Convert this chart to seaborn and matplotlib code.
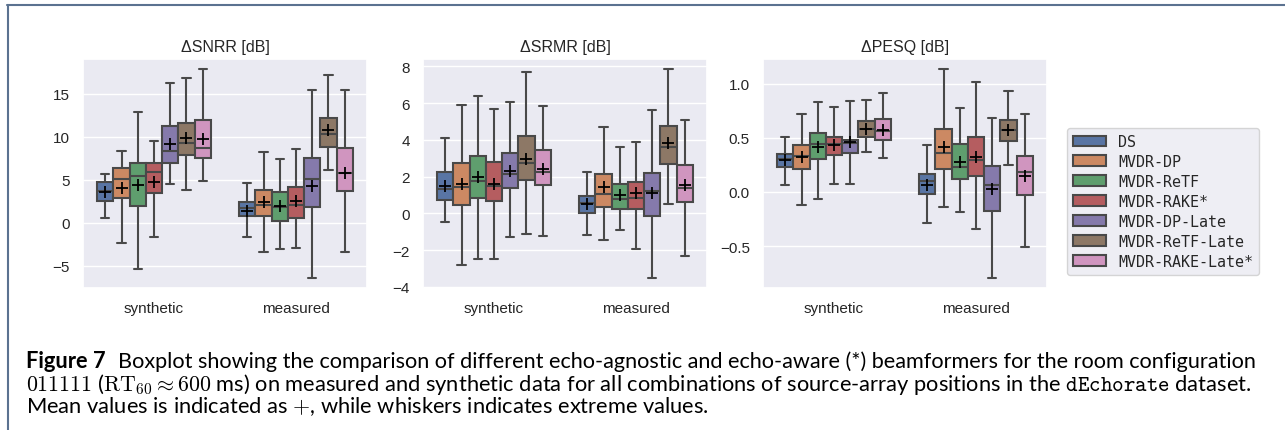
import numpy as np
import pandas as pd
import matplotlib.pyplot as plt
from matplotlib.lines import Line2D
import seaborn as sns

# Data
methods = ["DS", "MVDR-DP", "MVDR-ReTF", "MVDR-RAKE*",
           "MVDR-DP-Late", "MVDR-ReTF-Late", "MVDR-RAKE-Late*"]
conditions = ["synthetic", "measured"]

# one row per method: min, q1, median, q3, max, mean
snrr_synthetic = [
    [0.58, 2.55, 3.70, 4.70, 5.60, 3.58],
    [-2.35, 2.90, 5.04, 6.30, 8.35, 4.04],
    [-5.38, 1.92, 5.46, 6.90, 12.90, 4.42],
    [-1.70, 3.42, 5.90, 6.90, 9.50, 4.73],
    [4.54, 6.90, 8.27, 11.20, 16.20, 9.15],
    [3.80, 7.90, 9.30, 11.60, 16.80, 9.80],
    [4.88, 7.46, 8.65, 11.90, 17.80, 9.73],
]
snrr_measured = [
    [-1.70, 0.73, 1.73, 2.38, 4.60, 1.35],
    [-3.42, 0.81, 2.04, 3.77, 8.23, 2.42],
    [-3.04, 0.23, 1.85, 3.54, 7.42, 1.92],
    [-2.96, 0.50, 2.00, 4.12, 8.54, 2.54],
    [-6.38, 1.85, 5.12, 7.54, 15.40, 4.27],
    [6.08, 8.77, 10.27, 12.15, 17.20, 10.80],
    [-3.38, 3.73, 5.77, 8.65, 15.40, 5.80],
]
srmr_synthetic = [
    [-0.45, 0.72, 1.33, 2.27, 4.08, 1.49],
    [-2.83, 0.47, 1.46, 2.77, 5.90, 1.58],
    [-2.48, 0.86, 1.78, 3.13, 6.42, 1.96],
    [-2.50, 0.68, 1.51, 2.80, 5.70, 1.60],
    [-1.26, 1.37, 2.16, 3.29, 6.06, 2.32],
    [-1.12, 1.81, 2.75, 4.23, 7.72, 2.98],
    [-1.21, 1.56, 2.28, 3.44, 5.85, 2.43],
]
srmr_measured = [
    [-1.15, 0.05, 0.59, 0.97, 2.23, 0.50],
    [-1.42, 0.36, 1.06, 2.17, 4.73, 1.42],
    [-0.92, 0.23, 0.79, 1.58, 3.60, 1.00],
    [-1.96, 0.23, 0.83, 1.69, 3.87, 1.10],
    [-3.49, -0.13, 1.22, 2.21, 5.61, 1.10],
    [0.52, 2.71, 3.61, 4.78, 7.84, 3.85],
    [-2.30, 0.65, 1.37, 2.62, 5.09, 1.54],
]
pesq_synthetic = [
    [0.067, 0.23, 0.30, 0.35, 0.51, 0.29],
    [-0.12, 0.21, 0.33, 0.43, 0.72, 0.32],
    [-0.064, 0.30, 0.44, 0.54, 0.83, 0.41],
    [0.076, 0.34, 0.44, 0.51, 0.78, 0.43],
    [0.073, 0.36, 0.45, 0.48, 0.84, 0.46],
    [0.37, 0.51, 0.58, 0.65, 0.85, 0.58],
    [0.31, 0.48, 0.56, 0.67, 0.91, 0.57],
]
pesq_measured = [
    [-0.285, -0.018, 0.097, 0.164, 0.43, 0.061],
    [-0.142, 0.21, 0.36, 0.58, 1.13, 0.41],
    [-0.185, 0.121, 0.233, 0.44, 0.77, 0.273],
    [-0.34, 0.145, 0.294, 0.51, 1.01, 0.32],
    [-0.79, -0.173, 0.06, 0.24, 0.68, 0.027],
    [0.25, 0.47, 0.57, 0.66, 0.93, 0.57],
    [-0.506, -0.027, 0.18, 0.33, 0.72, 0.143],
]

panels = [
    ("\u0394SNRR [dB]", snrr_synthetic, snrr_measured),
    ("\u0394SRMR [dB]", srmr_synthetic, srmr_measured),
    ("\u0394PESQ [dB]", pesq_synthetic, pesq_measured),
]


def make_frames(syn, mea):
    # five points per box give exact quartiles and extremes (whis=(0, 100))
    rows, means = [], []
    for cond, table in zip(conditions, [syn, mea]):
        for m, r in zip(methods, table):
            for v in r[:5]:
                rows.append((cond, m, v))
            means.append((cond, m, r[5]))
    cols = ["condition", "method", "value"]
    return pd.DataFrame(rows, columns=cols), pd.DataFrame(means, columns=cols)


sns.set_theme(style="darkgrid")
plt.rcParams["font.family"] = ["Liberation Sans", "DejaVu Sans"]

W, H = 1285, 431
fig = plt.figure(figsize=(W / 100, H / 100), dpi=100)
lefts = [83, 423, 763]
axes = [fig.add_axes([l / W, (H - 289) / H, 284 / W, 229 / H]) for l in lefts]

for i, (ax, (title, syn, mea)) in enumerate(zip(axes, panels)):
    box_df, mean_df = make_frames(syn, mea)
    sns.boxplot(data=box_df, x="condition", y="value", hue="method",
                order=conditions, hue_order=methods, whis=(0, 100),
                linewidth=1.5, legend=(i == 2), ax=ax)
    sns.stripplot(data=mean_df, x="condition", y="value", hue="method",
                  order=conditions, hue_order=methods, dodge=True, jitter=False,
                  palette=["black"] * len(methods), marker="+", size=9,
                  linewidth=1.3, legend=False, zorder=5, ax=ax)
    ax.set_title(title, fontsize=11.5)
    ax.set_xlabel("")
    ax.set_ylabel("")
    ax.tick_params(labelsize=11)

# legend outside, on the right
leg = axes[2].get_legend()
handles = leg.legend_handles
labels = [t.get_text() for t in leg.get_texts()]
leg.remove()
fig.legend(handles, labels, loc="upper left",
           bbox_to_anchor=(1067 / W, 1 - 129 / H), borderaxespad=0,
           prop={"family": "DejaVu Sans Mono", "size": 10.8},
           labelspacing=0.33, handlelength=2.2, handleheight=0.7)

# page frame lines
fig.add_artist(Line2D([7 / W, 1], [1 - 5.5 / H] * 2, transform=fig.transFigure,
                      color="#5b7290", lw=1.5))
fig.add_artist(Line2D([7.5 / W] * 2, [0, 1 - 5.5 / H], transform=fig.transFigure,
                      color="#5b7290", lw=1.5))

# caption
cap = dict(family="Lato", math_fontfamily="cm", color="black", va="baseline")
line1 = ("Boxplot showing the comparison of different echo-agnostic and "
         "echo-aware (*) beamformers for the room configuration")
line2 = (r"$\mathtt{011111}$ ($\mathrm{RT}_{60} \approx 600$ ms) on measured and "
         r"synthetic data for all combinations of source-array positions in the "
         r"$\mathtt{dEchorate}$ dataset.")
line3 = "Mean values is indicated as $+$, while whiskers indicates extreme values."

renderer = fig.canvas.get_renderer()
fs = 13.0
t2 = fig.text(26 / W, 1 - 391 / H, line2, fontsize=fs, **cap)
fs = fs * 1224 / t2.get_window_extent(renderer).width
t2.set_fontsize(fs)
t0 = fig.text(26 / W, 1 - 368 / H, "Figure 7", fontsize=fs, weight="bold", **cap)
x1 = t0.get_window_extent(renderer).x1 + 12
t1 = fig.text(x1 / W, 1 - 368 / H, line1, fontsize=fs, **cap)
t1.set_fontsize(fs * (1248 - x1) / t1.get_window_extent(renderer).width)
t3 = fig.text(26 / W, 1 - 413 / H, line3, fontsize=fs, **cap)

fig.savefig("out.png", dpi=100)
